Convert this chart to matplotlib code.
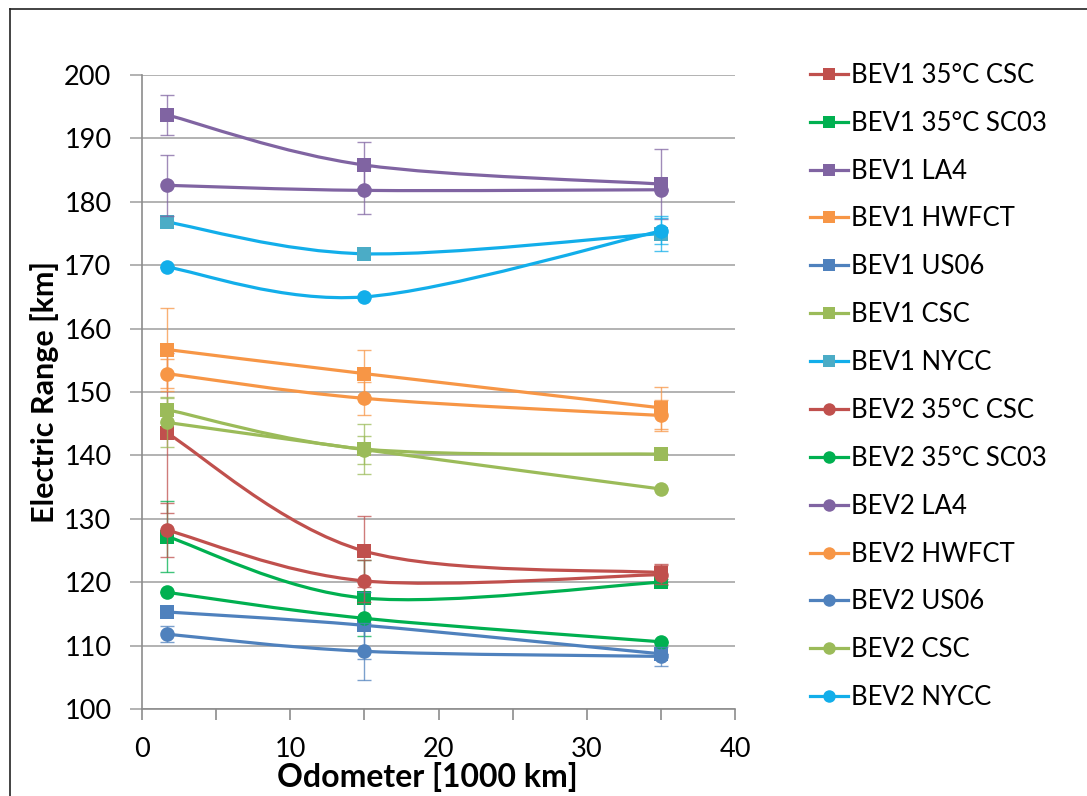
import matplotlib.pyplot as plt
from matplotlib.lines import Line2D
from matplotlib.path import Path
from matplotlib.patches import PathPatch

plt.rcParams['font.family'] = ['Lato', 'DejaVu Sans']

# odometer readings [1000 km]
odometer = [1.7, 15, 35]

labels = [
    "BEV1 35°C CSC", "BEV1 35°C SC03", "BEV1 LA4", "BEV1 HWFCT",
    "BEV1 US06", "BEV1 CSC", "BEV1 NYCC",
    "BEV2 35°C CSC", "BEV2 35°C SC03", "BEV2 LA4", "BEV2 HWFCT",
    "BEV2 US06", "BEV2 CSC", "BEV2 NYCC",
]

# electric range [km] per series at each odometer reading
bev1_35_csc = [143.5, 124.9, 121.5]
bev1_35_sc03 = [127.2, 117.5, 120.0]
bev1_la4 = [193.7, 185.8, 182.8]
bev1_hwfct = [156.7, 152.9, 147.5]
bev1_us06 = [115.3, 113.2, 108.7]
bev1_csc = [147.2, 141.0, 140.2]
bev1_nycc = [176.8, 171.8, 175.0]
bev2_35_csc = [128.2, 120.2, 121.2]
bev2_35_sc03 = [118.4, 114.3, 110.6]
bev2_la4 = [182.6, 181.8, 181.9]
bev2_hwfct = [152.9, 149.0, 146.3]
bev2_us06 = [111.8, 109.1, 108.3]
bev2_csc = [145.2, 140.9, 134.7]
bev2_nycc = [169.7, 165.0, 175.4]

# error bar half widths [km]
err_bev1_35_csc = [12.6, 5.6, 1.4]
err_bev1_35_sc03 = [5.6, 6.0, 0.5]
err_bev1_la4 = [3.2, 3.6, 5.5]
err_bev1_hwfct = [6.5, 3.7, 3.3]
err_bev1_us06 = [0.0, 5.3, 0.0]
err_bev1_csc = [2.0, 3.9, 0.0]
err_bev1_nycc = [0.0, 0.0, 2.7]
err_bev2_35_csc = [4.3, 3.3, 1.5]
err_bev2_35_sc03 = [0.0, 0.0, 0.0]
err_bev2_la4 = [4.8, 3.7, 0.0]
err_bev2_hwfct = [2.3, 2.6, 2.4]
err_bev2_us06 = [1.3, 4.5, 1.5]
err_bev2_csc = [3.9, 2.2, 0.0]
err_bev2_nycc = [0.0, 0.0, 2.0]

values = [bev1_35_csc, bev1_35_sc03, bev1_la4, bev1_hwfct, bev1_us06, bev1_csc,
          bev1_nycc, bev2_35_csc, bev2_35_sc03, bev2_la4, bev2_hwfct, bev2_us06,
          bev2_csc, bev2_nycc]
errors = [err_bev1_35_csc, err_bev1_35_sc03, err_bev1_la4, err_bev1_hwfct,
          err_bev1_us06, err_bev1_csc, err_bev1_nycc, err_bev2_35_csc,
          err_bev2_35_sc03, err_bev2_la4, err_bev2_hwfct, err_bev2_us06,
          err_bev2_csc, err_bev2_nycc]

red, green, purple, orange = "#C0504D", "#00B050", "#8064A2", "#F79646"
blue, lime, teal, cyan = "#4F81BD", "#9BBB59", "#4BACC6", "#12AEEA"
base = [red, green, purple, orange, blue, lime]
line_colors = base + [cyan] + base + [cyan]
marker_colors = base + [teal] + base + [cyan]
markers = ["s"] * 7 + ["o"] * 7


def smooth_path(x, y):
    # Excel-style smoothed line: cubic Bezier segments through the points
    pts = list(zip(x, y))
    n = len(pts)
    verts = [pts[0]]
    codes = [Path.MOVETO]
    for i in range(n - 1):
        p0 = pts[max(i - 1, 0)]
        p1 = pts[i]
        p2 = pts[i + 1]
        p3 = pts[min(i + 2, n - 1)]
        c1 = (p1[0] + (p2[0] - p0[0]) / 6, p1[1] + (p2[1] - p0[1]) / 6)
        c2 = (p2[0] - (p3[0] - p1[0]) / 6, p2[1] - (p3[1] - p1[1]) / 6)
        verts += [c1, c2, p2]
        codes += [Path.CURVE4] * 3
    return Path(verts, codes)


fig = plt.figure(figsize=(10.87, 7.96), dpi=100)
ax = fig.add_axes([142 / 1087, 1 - 709 / 796, (735 - 142) / 1087, (709 - 75) / 796])

handles = []
for i, lab in enumerate(labels):
    z = 3 + i * 0.1
    ax.errorbar(odometer, values[i], yerr=errors[i], fmt="none",
                ecolor=line_colors[i], elinewidth=1.0, capsize=5, capthick=1.0,
                alpha=0.75, zorder=z)
    ax.add_patch(PathPatch(smooth_path(odometer, values[i]), fill=False,
                           edgecolor=line_colors[i], linewidth=2.3, zorder=z + 0.01,
                           capstyle="round"))
    ax.plot(odometer, values[i], linestyle="none", marker=markers[i],
            markersize=10 if markers[i] == "s" else 10.5,
            color=marker_colors[i], markeredgewidth=0, zorder=z + 0.02)
    handles.append(Line2D([], [], color=line_colors[i], linewidth=2.3,
                          marker=markers[i], markersize=9,
                          markerfacecolor=marker_colors[i], markeredgewidth=0))

ax.set_xlim(0, 40)
ax.set_ylim(100, 200)
ax.set_xticks([0, 10, 20, 30, 40])
ax.set_xticks([5, 15, 25, 35], minor=True)
ax.set_yticks(range(100, 201, 10))
ax.yaxis.grid(True, color="#A6A6A6", linewidth=1.2)
ax.set_axisbelow(True)
for s in ["top", "right"]:
    ax.spines[s].set_visible(False)
for s in ["left", "bottom"]:
    ax.spines[s].set_color("#8C8C8C")
    ax.spines[s].set_linewidth(1.2)
ax.tick_params(axis="x", which="both", direction="out", length=8, width=1.2,
               color="#8C8C8C", labelsize=19.5, pad=12)
ax.tick_params(axis="y", direction="out", length=9, width=1.2,
               color="#A6A6A6", labelsize=19.5, pad=13)

ax.set_xlabel("Odometer [1000 km]", fontsize=23, fontweight="bold", labelpad=0)
ax.xaxis.label.set_x(0.482)
ax.set_ylabel("Electric Range [km]", fontsize=22, fontweight="bold", labelpad=4)
ax.yaxis.label.set_y(0.5)

fig.legend(handles=handles, labels=labels, loc="upper left",
           bbox_to_anchor=(797 / 1087, 1 - 50 / 796), frameon=False,
           fontsize=18.5, handlelength=1.5, handletextpad=0.1,
           labelspacing=0.89, borderpad=0)

# chart area border (left and top edges visible)
fig.add_artist(Line2D([10 / 1087, 10 / 1087], [0, 1 - 9 / 796], color="#222222",
                      linewidth=1.2))
fig.add_artist(Line2D([10 / 1087, 1], [1 - 9 / 796, 1 - 9 / 796], color="#222222",
                      linewidth=1.2))

fig.savefig("out.png", dpi=100)
